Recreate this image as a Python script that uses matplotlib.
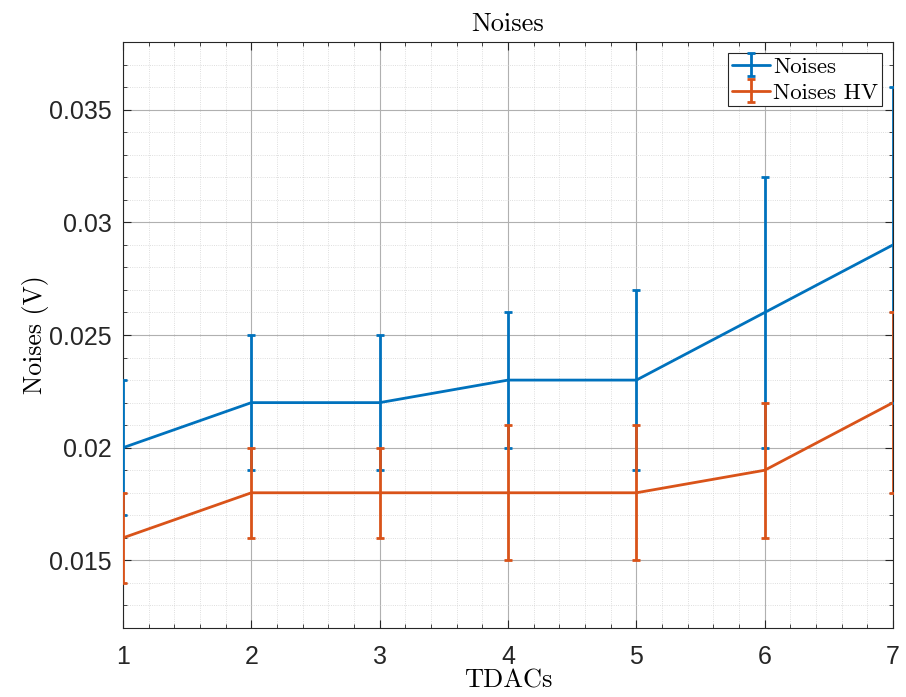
import numpy as np
import matplotlib
matplotlib.use("Agg")
import matplotlib.pyplot as plt
from matplotlib.ticker import MultipleLocator, FormatStrFormatter

tdacs = [1, 2, 3, 4, 5, 6, 7]
noises = [0.020, 0.022, 0.022, 0.023, 0.023, 0.026, 0.029]
noises_err = [0.003, 0.003, 0.003, 0.003, 0.004, 0.006, 0.007]
noises_hv = [0.016, 0.018, 0.018, 0.018, 0.018, 0.019, 0.022]
noises_hv_err = [0.002, 0.002, 0.002, 0.003, 0.003, 0.003, 0.004]

plt.rcParams['mathtext.fontset'] = 'cm'
serif = ['cmr10', 'DejaVu Serif']
sans = ['Liberation Sans', 'DejaVu Sans']

fig = plt.figure(figsize=(9.06, 6.97), dpi=100)
ax = fig.add_axes([0.1358, 0.099, 0.8499, 0.8407])

ax.errorbar(tdacs, noises, yerr=noises_err, color='#0072BD', lw=2,
            capsize=3, capthick=2, elinewidth=2, label='Noises', zorder=3,
            solid_capstyle='round', solid_joinstyle='round')
ax.errorbar(tdacs, noises_hv, yerr=noises_hv_err, color='#D95319', lw=2,
            capsize=3, capthick=2, elinewidth=2, label='Noises HV', zorder=3,
            solid_capstyle='round', solid_joinstyle='round')

ax.set_xlim(1, 7)
ax.set_ylim(0.012, 0.038)
ax.xaxis.set_major_locator(MultipleLocator(1))
ax.xaxis.set_minor_locator(MultipleLocator(0.2))
ax.yaxis.set_major_locator(MultipleLocator(0.005))
ax.yaxis.set_minor_locator(MultipleLocator(0.001))
ax.yaxis.set_major_formatter(FormatStrFormatter('%g'))

ax.grid(which='major', color='#b0b0b0', lw=0.8, ls='-')
ax.grid(which='minor', color='#d4d4d4', lw=0.6, ls=':')
ax.set_axisbelow(True)

ax.tick_params(which='both', direction='in', top=True, right=True,
               colors='#262626', labelcolor='#262626')
ax.tick_params(which='major', length=6, width=0.8, labelsize=18)
ax.tick_params(axis='x', which='major', pad=12)
ax.tick_params(axis='y', which='major', pad=8)
ax.tick_params(which='minor', length=3, width=0.6)
for lab in ax.get_xticklabels() + ax.get_yticklabels():
    lab.set_family(sans)
for s in ax.spines.values():
    s.set_color('#262626')
    s.set_linewidth(0.8)

ax.set_title('Noises', family=serif, fontsize=19, pad=8)
ax.set_xlabel('TDACs', family=serif, fontsize=19, labelpad=0)
ax.set_ylabel('Noises (V)', family=serif, fontsize=18.5, labelpad=0)

leg = ax.legend(loc='upper right', prop={'family': serif, 'size': 16.5},
                fancybox=False, edgecolor='#262626', framealpha=1,
                borderpad=0.15, handlelength=1.65, handletextpad=0.15,
                labelspacing=0.25, borderaxespad=0.5)
leg.get_frame().set_linewidth(0.8)

fig.savefig('out.png', dpi=100)
